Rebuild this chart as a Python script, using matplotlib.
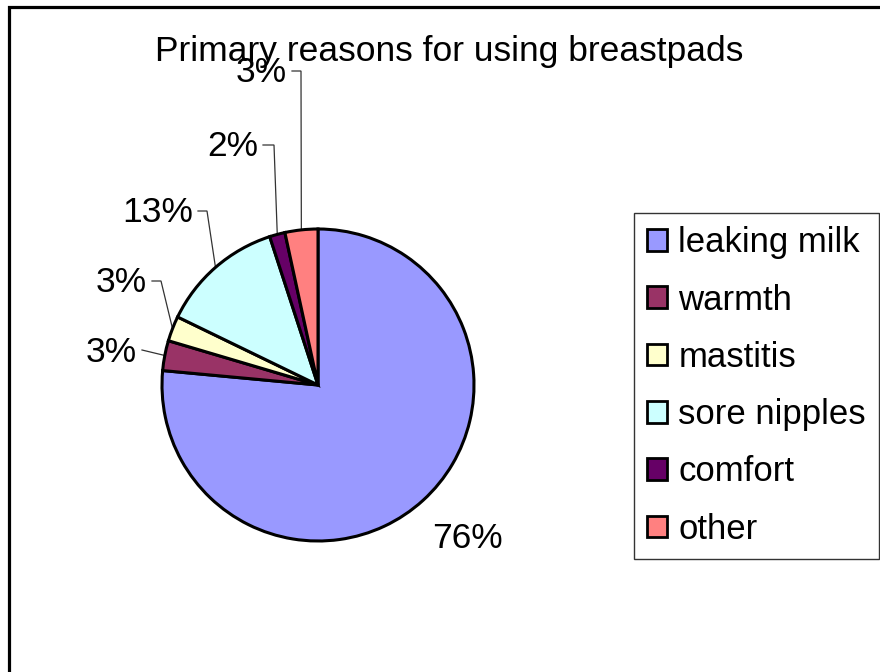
import matplotlib
matplotlib.use("Agg")
import matplotlib.pyplot as plt
from matplotlib.patches import Rectangle
import numpy as np

plt.rcParams['font.family'] = ['Liberation Sans', 'DejaVu Sans']

# ---- data ----
categories = ["leaking milk", "warmth", "mastitis", "sore nipples", "comfort", "other"]
values = [76.4, 3.1, 2.6, 12.8, 1.6, 3.4]
colors = ["#9999FF", "#993366", "#FFFFCC", "#CCFFFF", "#660066", "#FF8080"]
title = "Primary reasons for using breastpads"

# ---- layout (pixels) ----
W, H = 880, 672
cx, cy, R = 318, 385, 156          # pie centre / radius in px (from top)
# label anchor (x, centre y, alignment) in px
label_px = [(467, 538, 'center'), (137, 352, 'right'), (147, 283, 'right'),
            (193, 213, 'right'), (258, 147, 'right'), (287, 73, 'right')]
leader = [False, True, True, True, True, True]
tick_len = [0, 0, 9, 9, 11, 9]

fig = plt.figure(figsize=(W / 100, H / 100), dpi=100)
ax = fig.add_axes([0, 0, 1, 1])

wedges, _ = ax.pie(values, colors=colors, startangle=90, counterclock=False,
                   radius=1.0, center=(0, 0),
                   wedgeprops=dict(edgecolor='black', linewidth=2.2))
ax.set_xlim(-cx / R, (W - cx) / R)
ax.set_ylim(-(H - cy) / R, cy / R)
ax.set_aspect('auto')
ax.axis('off')

def px2d(x, y):
    return (x - cx) / R, (cy - y) / R

total = sum(values)
for w, v, (lx, ly, ha), has_leader, tl in zip(wedges, values, label_px, leader, tick_len):
    pct = v / total * 100
    tx, ty = px2d(lx, ly)
    ax.text(tx, ty, f"{pct:.0f}%", fontsize=25.5, ha=ha, va='center', color='black')
    if has_leader:
        mid = np.deg2rad((w.theta1 + w.theta2) / 2)
        ex, ey = np.cos(mid) * w.r, np.sin(mid) * w.r
        sx, sy = px2d(lx + 5, ly - 2)
        kx, ky = px2d(lx + 5 + tl, ly - 2)
        ax.plot([sx, kx, ex], [sy, ky, ey], color='#333333', lw=0.9,
                solid_joinstyle='miter', zorder=0.5)

fig.text(449 / W, 1 - 52 / H, title, fontsize=25.5, ha='center', va='center')

leg = fig.legend(wedges, categories, loc='upper left',
                 bbox_to_anchor=(634 / W, 1 - 213 / H),
                 fontsize=25, frameon=True, fancybox=False, shadow=False,
                 handlelength=0.58, handleheight=0.58, handletextpad=0.32,
                 labelspacing=0.70, borderpad=0.38, borderaxespad=0)
leg.get_frame().set_edgecolor('black')
leg.get_frame().set_linewidth(1.0)
for h in leg.legend_handles:
    h.set_edgecolor('black')
    h.set_linewidth(2.0)

fig.patches.append(Rectangle((8.5 / W, -0.1), 1.2, (H - 7) / H + 0.1,
                             transform=fig.transFigure, fill=False,
                             edgecolor='black', linewidth=2.3))

fig.savefig("out.png", dpi=100)
